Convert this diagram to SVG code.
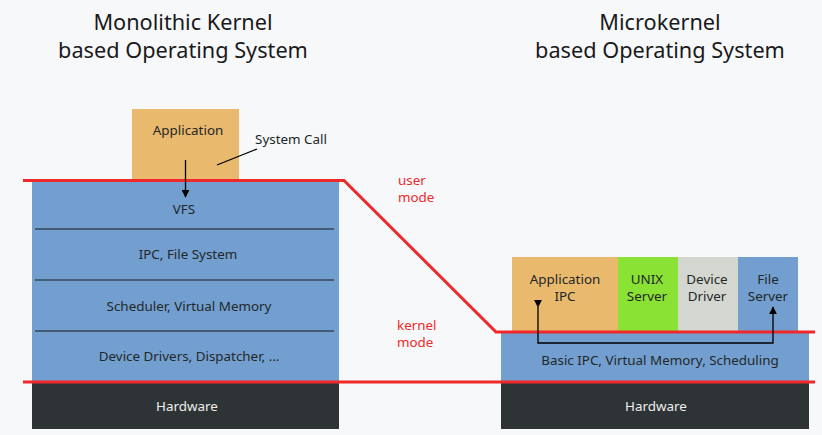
<svg xmlns="http://www.w3.org/2000/svg" width="822" height="435" viewBox="0 0 822 435">
<defs>
<style>
text{font-family:"Noto Sans","Open Sans","DejaVu Sans",sans-serif;fill:#232729;font-size:13.4px;text-anchor:middle}
.title{font-size:21.7px;fill:#1a1a1a}
.hw{fill:#eeeeec}
.red{fill:#ef2929;text-anchor:start}
.sep{stroke:#1a1a1a;stroke-width:1.2}
.mode{fill:none;stroke:#ef2929;stroke-width:3}
.conn{fill:none;stroke:#000;stroke-width:1.3}
</style>
<marker id="ah" viewBox="0 0 10 10" refX="9" refY="5" markerWidth="8" markerHeight="10" markerUnits="userSpaceOnUse" orient="auto">
<path d="M0,0 L10,5 L0,10 z" fill="#000"/>
</marker>
</defs>
<rect width="822" height="435" fill="#f7f8fa"/>
<g id="titles">
<text class="title" x="183" y="30">Monolithic Kernel</text>
<text class="title" x="183" y="58">based Operating System</text>
<text class="title" x="660" y="30">Microkernel</text>
<text class="title" x="660" y="58">based Operating System</text>
</g>
<g id="mono-app"><rect x="132" y="109" width="107" height="71" fill="#e9b96e"/><text x="188" y="135">Application</text></g>
<g id="mono-kernel">
<rect x="32" y="180" width="307" height="202" fill="#729fcf"/>
<text x="184" y="214">VFS</text>
<text x="188" y="259">IPC, File System</text>
<text x="189" y="311">Scheduler, Virtual Memory</text>
<text x="189" y="361">Device Drivers, Dispatcher, …</text>
<line class="sep" x1="35" y1="229" x2="334" y2="229"/>
<line class="sep" x1="35" y1="280" x2="334" y2="280"/>
<line class="sep" x1="35" y1="331" x2="334" y2="331"/>
</g>
<g id="mono-hw"><rect x="32" y="382" width="307" height="47" fill="#2e3436"/><text class="hw" x="187" y="411">Hardware</text></g>
<g id="syscall-label"><text x="291" y="144">System Call</text></g>
<g id="micro-app"><rect x="512" y="257" width="106" height="75" fill="#e9b96e"/><text x="565" y="284">Application</text><text x="565" y="301">IPC</text></g>
<g id="micro-unix"><rect x="618" y="257" width="60" height="75" fill="#8ae234"/><text x="647" y="284">UNIX</text><text x="647" y="301">Server</text></g>
<g id="micro-dev"><rect x="678" y="257" width="60" height="75" fill="#d3d7cf"/><text x="707" y="284">Device</text><text x="707" y="301">Driver</text></g>
<g id="micro-file"><rect x="738" y="257" width="60" height="75" fill="#729fcf"/><text x="768" y="284">File</text><text x="768" y="301">Server</text></g>
<g id="micro-kernel"><rect x="501" y="332" width="308" height="50" fill="#729fcf"/><text x="660" y="365">Basic IPC, Virtual Memory, Scheduling</text></g>
<g id="micro-hw"><rect x="501" y="382" width="308" height="47" fill="#2e3436"/><text class="hw" x="656" y="411">Hardware</text></g>
<g id="modes">
<text class="red" x="398" y="185">user</text>
<text class="red" x="398" y="202">mode</text>
<text class="red" x="397" y="330">kernel</text>
<text class="red" x="397" y="347">mode</text>
</g>
<g id="connectors">
<polyline class="mode" points="23,180.5 344,180.5 496,332 815,332"/>
<line class="mode" x1="23" y1="382" x2="815" y2="382"/>
<line class="conn" x1="185.5" y1="160" x2="185.5" y2="197" marker-end="url(#ah)"/>
<line class="conn" x1="217" y1="165" x2="257" y2="149"/>
<polyline class="conn" points="538,307 538,343 773,343 773,307" marker-start="url(#ah)" marker-end="url(#ah)"/>
</g>
</svg>
